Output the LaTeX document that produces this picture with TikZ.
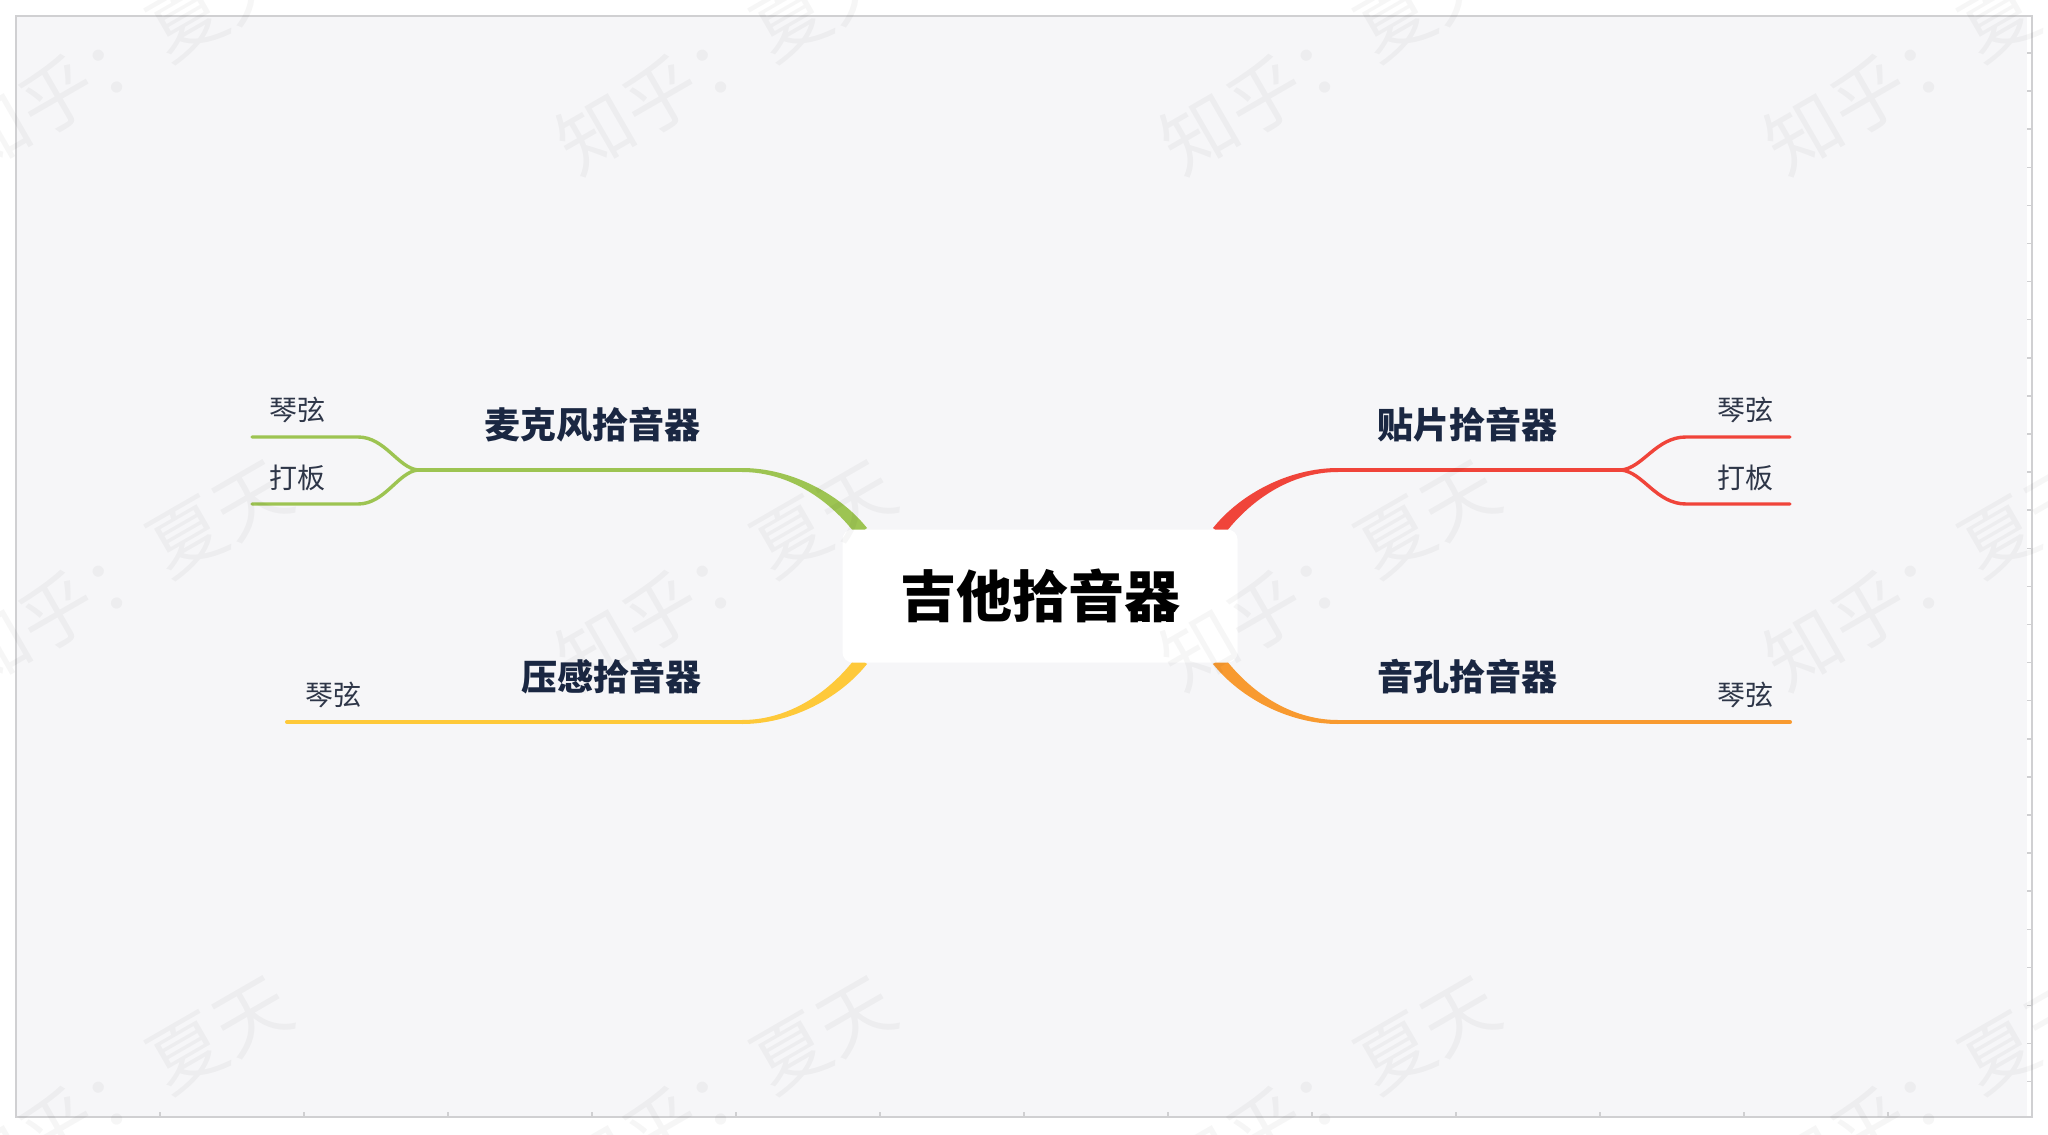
\documentclass[tikz,border=0pt]{standalone}
\usepackage{fontspec}
\newfontfamily\cjk{Noto Sans CJK SC}
\definecolor{canvasbg}{HTML}{F6F6F8}
\definecolor{framegray}{HTML}{D0D0D2}
\definecolor{brgreen}{HTML}{9DC452}
\definecolor{brred}{HTML}{F0443A}
\definecolor{bryellow}{HTML}{FEC93A}
\definecolor{brorange}{HTML}{F89A30}
\definecolor{navy}{HTML}{1A2742}
\definecolor{subtext}{HTML}{2E3648}
\begin{document}
\begin{tikzpicture}[x=0.5pt,y=-0.5pt,
  wm/.style={font=\cjk\fontsize{37.5pt}{40pt}\selectfont, text=black, text opacity=0.035, rotate=30, inner sep=0pt},
  rootbox/.style={font=\cjk\bfseries\fontsize{28pt}{30pt}\selectfont, text=black, fill=white, rounded corners=5pt, minimum width=197.5pt, minimum height=66.5pt, inner sep=0pt},
  mainlbl/.style={font=\cjk\bfseries\fontsize{18pt}{20pt}\selectfont, text=navy, inner sep=0pt},
  sublbl/.style={font=\cjk\fontsize{14pt}{16pt}\selectfont, text=subtext, inner sep=0pt},
  trunk/.style={line width=2pt, line cap=round},
  twig/.style={line width=1.7pt, line cap=round},
  tick/.style={draw=framegray, line width=0.75pt},
]
\useasboundingbox (0,0) rectangle (2048,1134);
\fill[white] (0,0) rectangle (2048,1134);
\fill[canvasbg] (17,17) rectangle (2027,1116);
\draw[framegray, line width=1.25pt] (16,16) rectangle (2032,1117);
\foreach \k in {0,...,27} { \draw[tick] (2027,{53+38.1*\k}) -- (2032,{53+38.1*\k}); }
\foreach \k in {0,...,12} { \draw[tick] ({160+144*\k},1112) -- ({160+144*\k},1117); }

% coordinates
\coordinate (gA) at (742,470);
\coordinate (gF) at (418,470);
\coordinate (gU) at (358,437);
\coordinate (gUe) at (252,437);
\coordinate (gD) at (358,504);
\coordinate (gDe) at (252,504);
\coordinate (rA) at (1338,470);
\coordinate (rF) at (1621,470);
\coordinate (rU) at (1686,437);
\coordinate (rUe) at (1790,437);
\coordinate (rD) at (1686,504);
\coordinate (rDe) at (1790,504);
\coordinate (yA) at (742,722);
\coordinate (yE) at (287,722);
\coordinate (oA) at (1338,722);
\coordinate (oE) at (1790,722);

% tapered branches
\fill[brgreen] (867,528) .. controls (839,493) and (790,468) .. (742,468) -- (742,472) .. controls (790,472) and (831,501) .. (857,536) -- cycle;
\fill[brred] (1213,528) .. controls (1241,493) and (1290,468) .. (1338,468) -- (1338,472) .. controls (1290,472) and (1249,501) .. (1223,536) -- cycle;
\fill[bryellow] (867,664) .. controls (839,699) and (790,724) .. (742,724) -- (742,720) .. controls (790,720) and (831,691) .. (857,656) -- cycle;
\fill[brorange] (1213,664) .. controls (1241,699) and (1290,724) .. (1338,724) -- (1338,720) .. controls (1290,720) and (1249,691) .. (1223,656) -- cycle;

% trunks
\draw[trunk, brgreen] (gA) -- (gF);
\draw[trunk, brred] (rA) -- (rF);
\draw[trunk, bryellow] (yA) -- (yE);
\draw[trunk, brorange] (oA) -- (oE);

% twigs
\draw[twig, brgreen] (gF) .. controls (398,468) and (385,437) .. (gU) -- (gUe);
\draw[twig, brgreen] (gF) .. controls (398,472) and (385,504) .. (gD) -- (gDe);
\draw[twig, brred] (rF) .. controls (1643,468) and (1656,437) .. (rU) -- (rUe);
\draw[twig, brred] (rF) .. controls (1643,472) and (1656,504) .. (rD) -- (rDe);

% root
\node[rootbox] (root) at (1040,596) {吉他拾音器};

% labels
\node[mainlbl] (mic) at (592,425) {麦克风拾音器};
\node[mainlbl] (patch) at (1467,425) {贴片拾音器};
\node[mainlbl] (piezo) at (611,677) {压感拾音器};
\node[mainlbl] (hole) at (1467,677) {音孔拾音器};

\node[sublbl] (micS) at (297,410) {琴弦};
\node[sublbl] (micB) at (297,478) {打板};
\node[sublbl] (patchS) at (1745,410) {琴弦};
\node[sublbl] (patchB) at (1745,478) {打板};
\node[sublbl] (piezoS) at (333,695) {琴弦};
\node[sublbl] (holeS) at (1745,695) {琴弦};

% watermarks
\foreach \i/\xx in {0/122,1/726,2/1330,3/1934} {
  \foreach \j/\yy in {0/58,1/574,2/1090} {
    \node[wm] (wm-\i-\j) at (\xx,\yy) {知乎：夏天};
  }
}
\end{tikzpicture}
\end{document}
